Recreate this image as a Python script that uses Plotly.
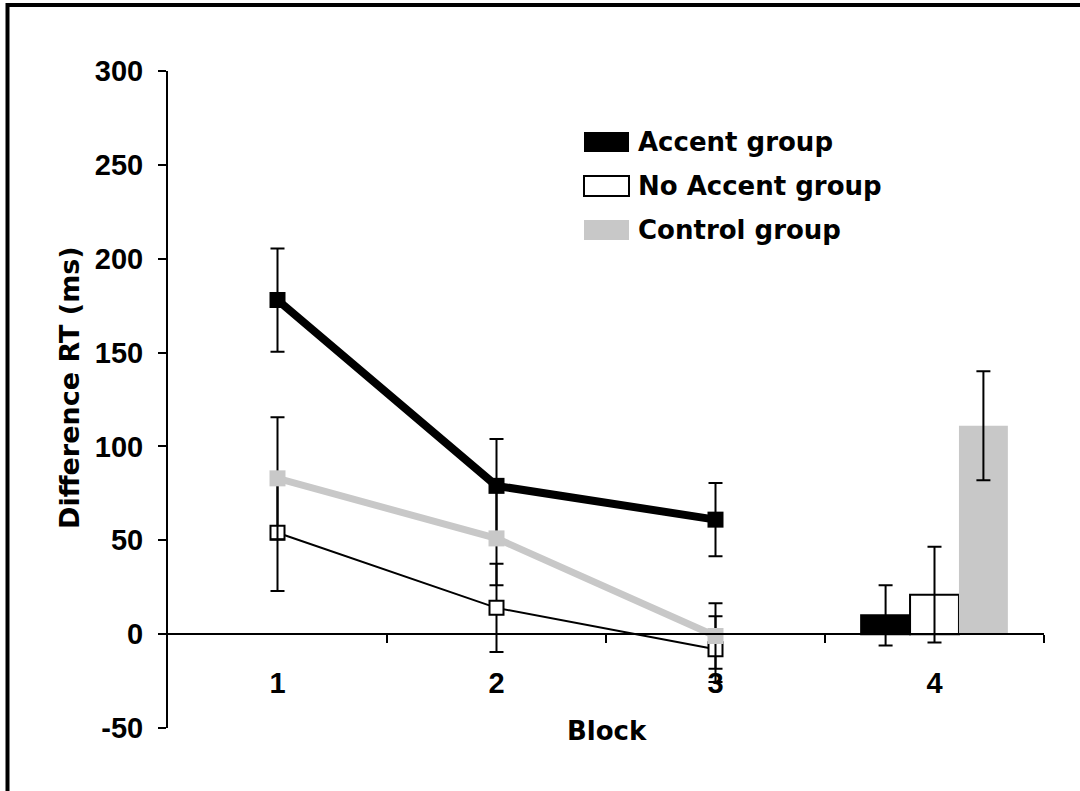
import plotly.graph_objects as go

# ---------------- data ----------------
series_names = ["Accent group", "No Accent group", "Control group"]

line_blocks = [1, 2, 3]
accent_line = [178, 79, 61]
accent_line_err = [27.5, 25, 19.5]
noaccent_line = [54, 14, -8]
noaccent_line_err = [31, 23.5, 17.5]
control_line = [83, 51, -1]
control_line_err = [32.5, 25, 17.5]

bar_block = [4]
accent_bar = [10]
accent_bar_err = [16]
noaccent_bar = [21]
noaccent_bar_err = [25.5]
control_bar = [111]
control_bar_err = [29]

x_tick_vals = [1, 2, 3, 4]
x_tick_text = ["1", "2", "3", "4"]
x_minor_vals = [1.5, 2.5, 3.5, 4.5]
y_tick_vals = [-50, 0, 50, 100, 150, 200, 250, 300]
y_tick_text = ["-50", "0", "50", "100", "150", "200", "250", "300"]

# ---------------- styling ----------------
W, H = 1080, 791
ML, MR, MT, MB = 168, 36, 71, 63
PW, PH = W - ML - MR, H - MT - MB
BLACK = "#000000"
GRAY = "#c8c8c8"
TICKFONT = dict(family="Liberation Sans, Arial, sans-serif", size=29, color=BLACK, weight="bold")
TEXTFONT = dict(family="DejaVu Sans, sans-serif", size=26, color=BLACK, weight="bold")


def px_x(px):
    return (px - ML) / PW


def px_y(py):
    return (H - MB - py) / PH


def err(vals):
    return dict(type="data", array=vals, visible=True, color=BLACK, thickness=2, width=7)


fig = go.Figure()

# lines (blocks 1-3)
fig.add_trace(go.Scatter(
    x=line_blocks, y=accent_line, name=series_names[0], mode="lines+markers",
    line=dict(color=BLACK, width=8),
    marker=dict(symbol="square", size=16, color=BLACK, line=dict(color=BLACK, width=0)),
    error_y=err(accent_line_err), showlegend=False))
fig.add_trace(go.Scatter(
    x=line_blocks, y=noaccent_line, name=series_names[1], mode="lines+markers",
    line=dict(color=BLACK, width=2),
    marker=dict(symbol="square", size=14, color="white", line=dict(color=BLACK, width=2)),
    error_y=err(noaccent_line_err), showlegend=False))
fig.add_trace(go.Scatter(
    x=line_blocks, y=control_line, name=series_names[2], mode="lines+markers",
    line=dict(color=GRAY, width=7),
    marker=dict(symbol="square", size=16, color=GRAY, line=dict(color=GRAY, width=0)),
    error_y=err(control_line_err), showlegend=False))

# bars (block 4)
fig.add_trace(go.Bar(
    x=bar_block, y=accent_bar, name=series_names[0],
    marker=dict(color=BLACK, line=dict(color=BLACK, width=2)),
    error_y=err(accent_bar_err), showlegend=False))
fig.add_trace(go.Bar(
    x=bar_block, y=noaccent_bar, name=series_names[1],
    marker=dict(color="white", line=dict(color=BLACK, width=2)),
    error_y=err(noaccent_bar_err), showlegend=False))
fig.add_trace(go.Bar(
    x=bar_block, y=control_bar, name=series_names[2],
    marker=dict(color=GRAY, line=dict(color=GRAY, width=0)),
    error_y=err(control_bar_err), showlegend=False))

# ---------------- legend (manual) ----------------
shapes = []
annotations = []
legend_rows = [142, 186, 230]
legend_fill = [BLACK, "white", GRAY]
legend_line = [BLACK, BLACK, GRAY]
for name, cy, fc, lc in zip(series_names, legend_rows, legend_fill, legend_line):
    shapes.append(dict(type="rect", xref="paper", yref="paper",
                       x0=px_x(584), x1=px_x(629), y0=px_y(cy + 10), y1=px_y(cy - 10),
                       fillcolor=fc, line=dict(color=lc, width=2 if fc == "white" else 0)))
    annotations.append(dict(text=name, xref="paper", yref="paper", x=px_x(636), y=px_y(cy),
                            xanchor="left", yanchor="middle", showarrow=False, font=TEXTFONT))

# frame border (left & top visible)
shapes.append(dict(type="rect", xref="paper", yref="paper",
                   x0=px_x(7.5), x1=px_x(W + 40), y0=px_y(H + 40), y1=px_y(5),
                   line=dict(color=BLACK, width=4), fillcolor="rgba(0,0,0,0)", layer="above"))

# axis titles
annotations.append(dict(text="Difference RT (ms)", xref="paper", yref="paper",
                        x=px_x(69), y=px_y(388), textangle=-90, showarrow=False,
                        xanchor="center", yanchor="middle",
                        font=dict(TEXTFONT, size=27)))
annotations.append(dict(text="Block", xref="paper", yref="paper",
                        x=px_x(607), y=px_y(731), showarrow=False,
                        xanchor="center", yanchor="middle", font=TEXTFONT))

y_min, y_max = y_tick_vals[0], y_tick_vals[-1]

fig.update_layout(
    width=W, height=H, autosize=False,
    margin=dict(l=ML, r=MR, t=MT, b=MB, pad=0),
    paper_bgcolor="white", plot_bgcolor="white",
    barmode="group", bargap=0.33, bargroupgap=0,
    shapes=shapes, annotations=annotations,
    xaxis=dict(range=[0.5, 4.5], anchor="free", position=(0 - y_min) / (y_max - y_min),
               showline=True, linecolor=BLACK, linewidth=2, showgrid=False, zeroline=False,
               tickmode="array", tickvals=x_tick_vals, ticktext=x_tick_text,
               ticks="", tickfont=TICKFONT, ticklabelstandoff=23, automargin=False,
               minor=dict(tickmode="array", tickvals=x_minor_vals, ticks="outside",
                          ticklen=8, tickwidth=2, tickcolor=BLACK, showgrid=False)),
    yaxis=dict(range=[y_min, y_max], showline=True, linecolor=BLACK, linewidth=2,
               showgrid=False, zeroline=False,
               tickmode="array", tickvals=y_tick_vals, ticktext=y_tick_text,
               ticks="outside", ticklen=8, tickwidth=2, tickcolor=BLACK,
               tickfont=TICKFONT, ticklabelstandoff=9, automargin=False),
)

fig.write_html("out.html")
